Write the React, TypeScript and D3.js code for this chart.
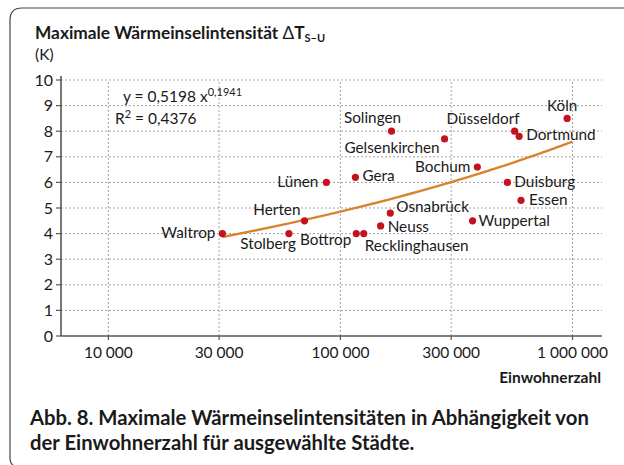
import React, { useEffect, useRef } from "react";
import * as d3 from "d3";

// Städte, Einwohnerzahl und maximale Wärmeinselintensität (K)
const cities = [
  "Waltrop", "Stolberg", "Herten", "Lünen", "Gera", "Bottrop", "Recklinghausen",
  "Neuss", "Osnabrück", "Solingen", "Gelsenkirchen", "Wuppertal", "Bochum",
  "Duisburg", "Düsseldorf", "Dortmund", "Essen", "Köln",
];
const population = [
  31000, 60000, 70000, 87000, 116000, 117000, 126000,
  149000, 164000, 166000, 281000, 371000, 389000,
  524000, 563000, 589000, 600000, 948000,
];
const intensity = [
  4.0, 4.0, 4.5, 6.0, 6.2, 4.0, 4.0,
  4.3, 4.8, 8.0, 7.7, 4.5, 6.6,
  6.0, 8.0, 7.8, 5.3, 8.5,
];

const xTicks = [10000, 30000, 100000, 300000, 1000000];
const xTickLabels = ["10 000", "30 000", "100 000", "300 000", "1 000 000"];
const yTicks = [0, 1, 2, 3, 4, 5, 6, 7, 8, 9, 10];

// Potenzfunktion aus der Abbildung: y = 0,5198 x^0,1941
const fitA = 0.5198;
const fitB = 0.1941;
const fitStart = 31000;
const fitEnd = 1000000;

// label placement: [dx, dy, anchor]
const labelPos: Record<string, [number, number, string]> = {
  Waltrop: [-7, 4, "end"],
  Stolberg: [7, 15, "end"],
  Herten: [-4, -6, "end"],
  "Lünen": [-8, 5, "end"],
  Gera: [7, 4, "start"],
  Bottrop: [-5, 11, "end"],
  Recklinghausen: [1, 17, "start"],
  Neuss: [7, 6, "start"],
  "Osnabrück": [6, -1, "start"],
  Solingen: [-19, -8, "middle"],
  Gelsenkirchen: [-5, 14, "end"],
  Wuppertal: [6, 5, "start"],
  Bochum: [-7, 5, "end"],
  Duisburg: [7, 5, "start"],
  "Düsseldorf": [5, -7, "end"],
  Dortmund: [7, 4, "start"],
  Essen: [8, 5, "start"],
  "Köln": [-5, -7, "middle"],
};

const FONT = "Lato, 'Noto Sans', sans-serif";

export default function App() {
  const svgRef = useRef<SVGSVGElement>(null);

  useEffect(() => {
    const svg = d3.select(svgRef.current);
    svg.selectAll("*").remove();

    const x = d3.scaleLog().domain([6250, 1340000]).range([61, 602]);
    const y = d3.scaleLinear().domain([0, 10]).range([336, 80]);

    // frame
    svg
      .append("path")
      .attr("d", "M624,8 L22,8 Q10,8 10,20 L10,458 Q10,463 13,465")
      .attr("fill", "none")
      .attr("stroke", "#444")
      .attr("stroke-width", 1.2);

    // title
    const title = svg
      .append("text")
      .attr("x", 35)
      .attr("y", 39)
      .attr("font-family", FONT)
      .attr("font-weight", 700)
      .attr("font-size", 17.3)
      .attr("fill", "#1a1a1a");
    title.append("tspan").text("Maximale Wärmeinselintensität ");
    title.append("tspan").attr("font-weight", 400).text("Δ");
    title.append("tspan").text("T");
    title.append("tspan").attr("font-size", 11).attr("dy", 3).text("S–U");
    svg
      .append("text")
      .attr("x", 35)
      .attr("y", 60)
      .attr("font-family", FONT)
      .attr("font-size", 15.5)
      .attr("fill", "#1a1a1a")
      .text("(K)");

    const [x0, x1] = x.range();
    const [y0, y1] = y.range();

    // grid
    const grid = svg
      .append("g")
      .attr("stroke", "#8a8a8a")
      .attr("stroke-width", 0.8)
      .attr("stroke-dasharray", "2,2");
    grid
      .selectAll("line.h")
      .data(yTicks.filter((d) => d > 0))
      .join("line")
      .attr("x1", x0)
      .attr("x2", x1)
      .attr("y1", (d) => y(d))
      .attr("y2", (d) => y(d));
    grid
      .selectAll("line.v")
      .data(xTicks)
      .join("line")
      .attr("x1", (d) => x(d))
      .attr("x2", (d) => x(d))
      .attr("y1", y0)
      .attr("y2", y1);

    // axes
    const axis = svg.append("g").attr("stroke", "#555").attr("stroke-width", 1.6);
    axis.append("line").attr("x1", x0).attr("x2", x0).attr("y1", y0).attr("y2", y1 - 4);
    axis.append("line").attr("x1", x0).attr("x2", x1).attr("y1", y0).attr("y2", y0);
    axis
      .selectAll("line.yt")
      .data(yTicks)
      .join("line")
      .attr("x1", x0 - 5)
      .attr("x2", x0)
      .attr("y1", (d) => y(d))
      .attr("y2", (d) => y(d))
      .attr("stroke-width", 1.2);
    axis
      .selectAll("line.xt")
      .data(xTicks)
      .join("line")
      .attr("x1", (d) => x(d))
      .attr("x2", (d) => x(d))
      .attr("y1", y0)
      .attr("y2", y0 + 4)
      .attr("stroke-width", 1.2);

    svg
      .append("g")
      .selectAll("text")
      .data(yTicks)
      .join("text")
      .attr("x", x0 - 8)
      .attr("y", (d) => y(d) + 5.5)
      .attr("text-anchor", "end")
      .attr("font-family", FONT)
      .attr("font-size", 16)
      .attr("fill", "#1a1a1a")
      .text((d) => d);

    svg
      .append("g")
      .selectAll("text")
      .data(xTicks)
      .join("text")
      .attr("x", (d) => x(d))
      .attr("y", y0 + 22)
      .attr("text-anchor", "middle")
      .attr("font-family", FONT)
      .attr("font-size", 15.5)
      .attr("fill", "#1a1a1a")
      .text((d, i) => xTickLabels[i]);

    svg
      .append("text")
      .attr("x", 601)
      .attr("y", y0 + 47)
      .attr("text-anchor", "end")
      .attr("font-family", FONT)
      .attr("font-weight", 700)
      .attr("font-size", 15.5)
      .attr("fill", "#1a1a1a")
      .text("Einwohnerzahl");

    // fit line
    const fitX = x.ticks(60).filter((d) => d > fitStart && d < fitEnd);
    const fitPts = [fitStart, ...fitX, fitEnd];
    const line = d3
      .line<number>()
      .x((d) => x(d))
      .y((d) => y(fitA * Math.pow(d, fitB)))
      .curve(d3.curveMonotoneX);
    svg
      .append("path")
      .datum(fitPts)
      .attr("d", line)
      .attr("fill", "none")
      .attr("stroke", "#d8832f")
      .attr("stroke-width", 2.4);

    // equation
    const eq = svg
      .append("text")
      .attr("x", 123)
      .attr("y", 102)
      .attr("font-family", FONT)
      .attr("font-size", 15.5)
      .attr("fill", "#1a1a1a");
    eq.append("tspan").text("y = 0,5198 x");
    eq.append("tspan").attr("font-size", 11).attr("dy", -6).text("0,1941");
    const r2 = svg
      .append("text")
      .attr("x", 115)
      .attr("y", 124)
      .attr("font-family", FONT)
      .attr("font-size", 15.5)
      .attr("fill", "#1a1a1a");
    r2.append("tspan").text("R");
    r2.append("tspan").attr("font-size", 11).attr("dy", -6).text("2");
    r2.append("tspan").attr("dy", 6).text(" = 0,4376");

    // points
    const idx = d3.range(cities.length);
    svg
      .append("g")
      .selectAll("circle")
      .data(idx)
      .join("circle")
      .attr("cx", (i) => x(population[i]))
      .attr("cy", (i) => y(intensity[i]))
      .attr("r", 3.6)
      .attr("fill", "#c4121f");

    svg
      .append("g")
      .selectAll("text")
      .data(idx)
      .join("text")
      .attr("x", (i) => x(population[i]) + labelPos[cities[i]][0])
      .attr("y", (i) => y(intensity[i]) + labelPos[cities[i]][1])
      .attr("text-anchor", (i) => labelPos[cities[i]][2])
      .attr("font-family", FONT)
      .attr("font-size", 15.3)
      .attr("fill", "#1a1a1a")
      .text((i) => cities[i]);

    // caption
    const cap = svg
      .append("text")
      .attr("font-family", FONT)
      .attr("font-weight", 700)
      .attr("font-size", 20.3)
      .attr("fill", "#1a1a1a");
    cap.append("tspan").attr("x", 30).attr("y", 425).text("Abb. 8. Maximale Wärmeinselintensitäten in Abhängigkeit von");
    cap.append("tspan").attr("x", 30).attr("y", 450).text("der Einwohnerzahl für ausgewählte Städte.");
  }, []);

  return (
    <svg
      ref={svgRef}
      width={624}
      height={465}
      style={{ position: "absolute", left: 0, top: 0, background: "#fff" }}
    />
  );
}
